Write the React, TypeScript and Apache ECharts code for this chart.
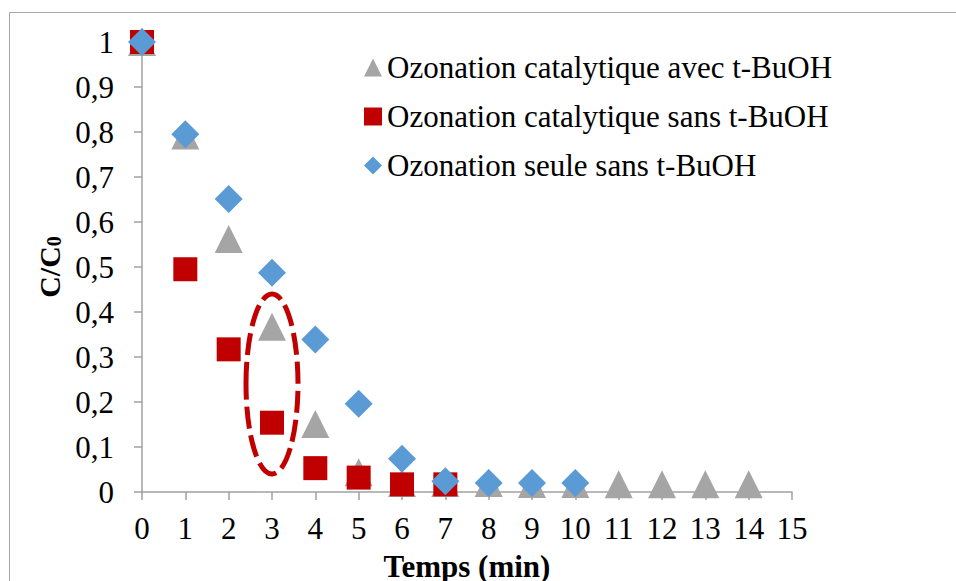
import React, { useEffect, useRef } from "react";
import * as echarts from "echarts";

const SERIES_NAMES = [
  "Ozonation catalytique avec t-BuOH",
  "Ozonation catalytique sans t-BuOH",
  "Ozonation seule sans t-BuOH",
];

const timeAvec = [0, 1, 2, 3, 4, 5, 6, 7, 8, 9, 10, 11, 12, 13, 14];
const valuesAvec = [1.0, 0.792, 0.562, 0.367, 0.151, 0.044, 0.02, 0.02, 0.02, 0.018, 0.018, 0.017, 0.017, 0.017, 0.017];

const timeSans = [0, 1, 2, 3, 4, 5, 6, 7];
const valuesSans = [1.0, 0.495, 0.317, 0.154, 0.053, 0.032, 0.017, 0.017];

const timeSeule = [0, 1, 2, 3, 4, 5, 6, 7, 8, 9, 10];
const valuesSeule = [1.0, 0.795, 0.651, 0.487, 0.339, 0.196, 0.074, 0.024, 0.02, 0.02, 0.02];

// highlighted region around t = 3 min (data units: centre x, centre y, half-width, half-height)
const highlight = [[3, 0.24, 0.6, 0.2]];

const FONT = "Liberation Serif";

function pairs(xs: number[], ys: number[]) {
  return xs.map((x, i) => [x, ys[i]]);
}

export default function App() {
  const ref = useRef<HTMLDivElement>(null);

  useEffect(() => {
    document.body.style.margin = "0";
    if (!ref.current) return;
    const chart = echarts.init(ref.current, null, { renderer: "svg" });
    chart.setOption({
      animation: false,
      backgroundColor: "#ffffff",
      textStyle: { fontFamily: FONT },
      grid: { left: 142, top: 42, width: 650, height: 450, containLabel: false, outerBoundsMode: "none" },
      graphic: [
        {
          type: "rect",
          x: 9.5,
          y: 12.5,
          shape: { width: 2000, height: 2000 },
          style: { fill: "none", stroke: "#A6A6A6", lineWidth: 1 },
          silent: true,
          z: -10,
        },
      ],
      legend: {
        orient: "vertical",
        left: 364,
        top: 52,
        padding: 0,
        itemWidth: 18,
        itemHeight: 18,
        itemGap: 18,
        data: SERIES_NAMES,
        textStyle: { fontFamily: FONT, fontSize: 31, color: "#000" },
      },
      xAxis: {
        type: "value",
        min: 0,
        max: 15,
        interval: 1,
        name: "Temps (min)",
        nameLocation: "middle",
        nameGap: 59,
        nameTextStyle: { fontFamily: FONT, fontSize: 31, fontWeight: "bold", color: "#000" },
        axisLine: { onZero: false, lineStyle: { color: "#A0A0A0", width: 1.5 } },
        axisTick: { show: true, length: 8, lineStyle: { color: "#A0A0A0", width: 1.5 } },
        axisLabel: { fontFamily: FONT, fontSize: 31, color: "#000", margin: 21 },
        splitLine: { show: false },
      },
      yAxis: {
        type: "value",
        min: 0,
        max: 1,
        interval: 0.1,
        name: "{m|C/C}{s|0}",
        nameLocation: "middle",
        nameRotate: 90,
        nameGap: 77,
        nameTextStyle: {
          fontFamily: FONT,
          fontWeight: "bold",
          color: "#000",
          rich: {
            m: { fontFamily: FONT, fontSize: 30, fontWeight: "bold", color: "#000", lineHeight: 30 },
            s: {
              fontFamily: FONT,
              fontSize: 20,
              fontWeight: "bold",
              color: "#000",
              lineHeight: 12,
              verticalAlign: "bottom",
            },
          },
        },
        axisLine: { show: true, lineStyle: { color: "#A0A0A0", width: 1.5 } },
        axisTick: { show: true, length: 8, lineStyle: { color: "#A0A0A0", width: 1.5 } },
        axisLabel: {
          fontFamily: FONT,
          fontSize: 31,
          color: "#000",
          margin: 28,
          formatter: (v: number) => String(Math.round(v * 10) / 10).replace(".", ","),
        },
        splitLine: { show: false },
      },
      series: [
        {
          name: SERIES_NAMES[0],
          type: "scatter",
          symbol: "triangle",
          symbolSize: 28,
          itemStyle: { color: "#A5A5A5", opacity: 1 },
          data: pairs(timeAvec, valuesAvec),
          z: 2,
        },
        {
          name: SERIES_NAMES[1],
          type: "scatter",
          symbol: "rect",
          symbolSize: 24,
          itemStyle: { color: "#C00000", opacity: 1 },
          data: pairs(timeSans, valuesSans),
          z: 3,
        },
        {
          name: SERIES_NAMES[2],
          type: "scatter",
          symbol: "diamond",
          symbolSize: 28,
          itemStyle: { color: "#5B9BD5", opacity: 1 },
          data: pairs(timeSeule, valuesSeule),
          z: 4,
        },
        {
          name: "highlight",
          type: "custom",
          silent: true,
          clip: false,
          z: 5,
          data: highlight,
          renderItem: (params: any, api: any) => {
            const c = api.coord([api.value(0), api.value(1)]);
            const s = api.size([api.value(2), api.value(3)]);
            return {
              type: "ellipse",
              shape: { cx: c[0], cy: c[1], rx: s[0], ry: s[1] },
              style: {
                fill: "none",
                stroke: "#C00000",
                lineWidth: 5,
                lineDash: [22, 7],
              },
            };
          },
        },
      ],
    });
    return () => chart.dispose();
  }, []);

  return <div ref={ref} style={{ width: 956, height: 581 }} />;
}
